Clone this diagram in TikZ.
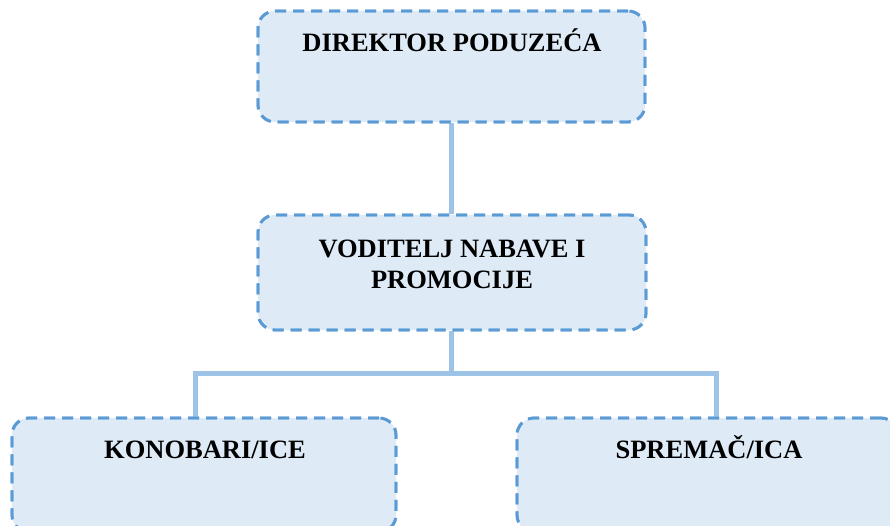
\documentclass[tikz,border=0pt]{standalone}
\usepackage{fontspec}
\setmainfont{Liberation Serif}
\definecolor{boxborder}{HTML}{5B9BD5}
\definecolor{boxfill}{HTML}{DEEBF7}
\definecolor{linkcol}{HTML}{9DC3E6}
\tikzset{
  orgbox/.style={draw=boxborder, fill=boxfill, line width=2.8pt, dash pattern=on 11pt off 7pt,
    rounded corners=17pt, rectangle, inner sep=0pt},
  orgtext/.style={anchor=base, align=center, inner sep=0pt, font=\bfseries\fontsize{26.5}{31}\selectfont},
  link/.style={draw=linkcol, line width=5pt}
}
\begin{document}
\begin{tikzpicture}[x=1pt,y=-1pt]
\useasboundingbox (0,0) rectangle (890,526);
\clip (0,0) rectangle (890,526);
\coordinate (jc) at (451,373);
\coordinate (jl) at (195,373);
\coordinate (jr) at (716,373);
\node[orgbox, minimum width=387pt, minimum height=111pt] (top) at (451.5,66.5) {};
\node[orgbox, minimum width=388pt, minimum height=115pt] (mid) at (452,272.5) {};
\node[orgbox, minimum width=384pt, minimum height=114pt] (bl) at (204,475) {};
\node[orgbox, minimum width=381pt, minimum height=114pt] (br) at (707.5,475) {};
% connectors
\draw[link] (top.south -| jc) -- (mid.north -| jc);
\draw[link] (mid.south -| jc) -- (jc);
\draw[link, line cap=rect] (jl) -- (jr);
\draw[link] (jl) -- (jl |- bl.north);
\draw[link] (jr) -- (jr |- br.north);
% box borders redrawn over connector ends
\node[orgbox, fill=none, minimum width=387pt, minimum height=111pt] (topb) at (top) {};
\node[orgbox, fill=none, minimum width=388pt, minimum height=115pt] (midb) at (mid) {};
\node[orgbox, fill=none, minimum width=384pt, minimum height=114pt] (blb) at (bl) {};
\node[orgbox, fill=none, minimum width=381pt, minimum height=114pt] (brb) at (br) {};
\node[orgtext] (ttop) at (452,52) {DIREKTOR PODUZEĆA};
\node[orgtext] (tmid) at (452,288) {VODITELJ NABAVE I\\PROMOCIJE};
\node[orgtext] (tbl) at (205,458) {KONOBARI/ICE};
\node[orgtext] (tbr) at (709,458) {SPREMAČ/ICA};
\end{tikzpicture}
\end{document}
